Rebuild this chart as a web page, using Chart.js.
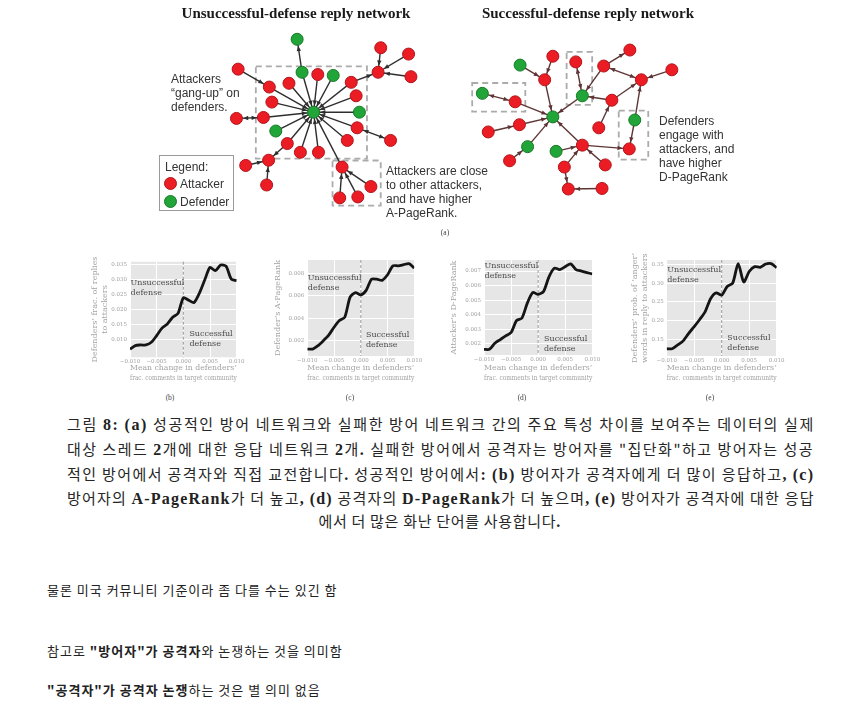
<!DOCTYPE html>
<html>
<head>
<meta charset="utf-8">
<script src="https://cdn.jsdelivr.net/npm/chart.js@4.4.0/dist/chart.umd.min.js"></script>
<style>
body{margin:0;background:#fff;width:849px;height:705px;position:relative;overflow:hidden;font-family:"Noto Sans CJK KR",sans-serif;}
.abs{position:absolute;white-space:nowrap;}
canvas{position:absolute;}
.ttl{font:bold 15px "Liberation Serif",serif;color:#1a1a1a;line-height:18px;transform:translateX(-50%);}
.note{font:12px "Liberation Sans",Arial,sans-serif;color:#333;line-height:14px;}
.sub{font:7.5px "Liberation Serif",serif;color:#444;line-height:10px;transform:translateX(-50%);}
.cap{font:15px "Noto Sans CJK KR",sans-serif;color:#262626;line-height:20px;}
.cap b{font-family:"Liberation Serif",serif;font-weight:bold;font-size:16px;color:#222;}
.txt{font:13px "Noto Sans CJK KR",sans-serif;color:#222;line-height:18px;letter-spacing:1px;}
.legend{position:absolute;left:159px;top:155px;width:73px;height:54px;border:1px solid #9a9a9a;background:#fff;}
.dot{position:absolute;width:12px;height:12px;border-radius:50%;}
</style>
</head>
<body>

<canvas id="net" width="849" height="240" style="left:0;top:0"></canvas>

<div class="abs ttl" style="left:296px;top:4px">Unsuccessful-defense reply network</div>
<div class="abs ttl" style="left:588px;top:4px">Successful-defense reply network</div>

<div class="abs note" style="left:171px;top:72px">Attackers<br>“gang-up” on<br>defenders.</div>
<div class="abs note" style="left:386px;top:164px">Attackers are close<br>to other attackers,<br>and have higher<br>A-PageRank.</div>
<div class="abs note" style="left:659px;top:114px">Defenders<br>engage with<br>attackers, and<br>have higher<br>D-PageRank</div>

<div class="legend">
  <div class="abs note" style="left:5px;top:4px">Legend:</div>
  <div class="dot" style="left:4px;top:21px;background:#ec1c24;border:1px solid #b3141a;width:11px;height:11px"></div>
  <div class="abs note" style="left:20px;top:21px">Attacker</div>
  <div class="dot" style="left:4px;top:39px;background:#22a538;border:1px solid #177a27;width:11px;height:11px"></div>
  <div class="abs note" style="left:20px;top:39px">Defender</div>
</div>

<div class="abs sub" style="left:445px;top:228px">(a)</div>

<canvas id="chartB"></canvas>
<canvas id="chartC"></canvas>
<canvas id="chartD"></canvas>
<canvas id="chartE"></canvas>

<div class="abs sub" style="left:170px;top:393px">(b)</div>
<div class="abs sub" style="left:350px;top:393px">(c)</div>
<div class="abs sub" style="left:522px;top:393px">(d)</div>
<div class="abs sub" style="left:710px;top:393px">(e)</div>

<div id="caption"></div>

<div class="abs txt" style="left:47px;top:581px">물론 미국 커뮤니티 기준이라 좀 다를 수는 있긴 함</div>
<div class="abs txt" style="left:47px;top:642px">참고로 <b>"방어자"가 공격자</b>와 논쟁하는 것을 의미함</div>
<div class="abs txt" style="left:47px;top:681px"><b>"공격자"가 공격자 논쟁</b>하는 것은 별 의미 없음</div>

<script>
// ---- network (a): nodes [x, y, type], A = attacker, D = defender
var netNodes1 = [
  [311.7,111.7,'D'], [295,34.3,'D'], [300,69.3,'D'], [316,71.7,'A'], [331.7,72.7,'D'],
  [350,80,'A'], [355,94.3,'A'], [358.3,111.7,'D'], [356,128.3,'A'], [346,141.7,'A'],
  [390,141.7,'A'], [316.7,154.3,'A'], [298.3,154.3,'A'], [340.7,170,'A'], [370,190.7,'A'],
  [356.7,201.7,'A'], [338.3,202.7,'A'], [285,145,'A'], [266,162.7,'A'], [242.7,168.3,'A'],
  [264,189,'A'], [273.3,131.7,'D'], [260.7,117.3,'A'], [233.3,118.3,'A'], [269.3,101,'A'],
  [286.7,81,'A'], [266.7,85,'A'], [235,66,'A'], [377.3,69.3,'A'], [380,43.3,'A'],
  [408.3,50,'A'], [410.7,74,'A']
];
// edges [from, to, 1 = arrow at "to", 2 = both ends]
var netEdges1 = [
  [2,0,1],[3,0,1],[4,0,1],[5,0,1],[6,0,1],[7,0,1],[8,0,1],[9,0,1],[11,0,1],[12,0,1],
  [13,0,1],[17,0,1],[21,0,1],[22,0,1],[24,0,1],[25,0,1],[26,0,1],
  [2,1,1],[27,26,1],[23,22,2],[10,8,2],[5,28,1],[29,28,1],[30,28,1],[31,28,1],
  [14,13,1],[15,13,1],[16,13,1],[17,18,1],[19,18,1],[20,18,1]
];
var netNodes2 = [
  [555,116.7,'D'], [521.7,61.7,'D'], [555,52.3,'A'], [546.7,77.3,'A'], [483.3,91.7,'D'],
  [516.7,100.7,'A'], [521,125,'A'], [489.3,132.7,'A'], [529.3,148.3,'D'], [511,163.3,'A'],
  [558.3,153.3,'D'], [585,146.7,'A'], [566.7,170,'A'], [608.3,167.7,'A'], [570.7,193.3,'A'],
  [605,192.7,'A'], [632.7,150.7,'A'], [638.3,120,'D'], [645,77.3,'A'], [676,66.7,'A'],
  [633.3,45.7,'A'], [606.7,62.7,'A'], [615,99,'A'], [601.7,128.3,'A'], [585,94.3,'D'],
  [578.3,58.3,'A']
];
var netEdges2 = [
  [2,3,1],[1,3,1],[3,0,1],[4,5,2],[5,0,1],[7,6,1],[6,0,1],[9,8,1],[8,0,1],[11,0,1],
  [10,11,1],[11,16,1],[12,11,1],[12,14,1],[15,14,1],[13,11,1],[17,16,1],[17,18,1],
  [19,18,1],[18,21,2],[21,20,1],[21,24,1],[22,18,1],[22,24,1],[23,22,1],[25,24,2],[24,0,1]
];
// dashed highlight boxes [x0, y0, x1, y1]
var netBoxes = [
  [253,63,366,161], [331,163,380,211],
  [473,80.7,527,111], [569,47.7,595,104], [622,110,652,162]
];

// ---- panels (b)-(e)
var xValues = [-0.010,-0.009,-0.008,-0.007,-0.006,-0.005,-0.004,-0.003,-0.002,-0.001,0.000,
               0.001,0.002,0.003,0.004,0.005,0.006,0.007,0.008,0.009,0.010];
var xTicks = [-0.010,-0.005,0.000,0.005,0.010];
var fracReplies = [0.0067,0.0079,0.0081,0.0081,0.0090,0.0112,0.0137,0.0151,0.0173,0.0186,0.0238,
                   0.0230,0.0222,0.0253,0.0297,0.0339,0.0328,0.0347,0.0343,0.0300,0.0295];
var aPageRank = [0.00125,0.00125,0.00155,0.0020,0.0025,0.0032,0.0038,0.0041,0.0059,0.0063,0.0061,
                 0.0065,0.0075,0.0075,0.0074,0.0079,0.0087,0.0087,0.0088,0.0089,0.0085];
var dPageRank = [0.00163,0.00163,0.00205,0.0023,0.00255,0.00278,0.0036,0.00377,0.0048,0.00553,0.0054,
                 0.0056,0.0066,0.0072,0.0071,0.0073,0.0075,0.0071,0.0070,0.0069,0.0068];
var angerProb = [0.125,0.125,0.135,0.146,0.166,0.184,0.203,0.224,0.259,0.274,0.268,
                 0.291,0.300,0.352,0.303,0.331,0.344,0.342,0.351,0.352,0.341];
var ticksB = [0.010,0.015,0.020,0.025,0.030,0.035];
var ticksC = [0.002,0.004,0.006,0.008];
var ticksD = [0.002,0.003,0.004,0.005,0.006,0.007];
var ticksE = [0.15,0.20,0.25,0.30,0.35];
var xTitle = ['Mean change in defenders’', 'frac. comments in target community'];

var captionLines = [
  '그림 <b>8:</b> <b>(a)</b> 성공적인 방어 네트워크와 실패한 방어 네트워크 간의 주요 특성 차이를 보여주는 데이터의 실제',
  '대상 스레드 <b>2</b>개에 대한 응답 네트워크 <b>2</b>개<b>.</b> 실패한 방어에서 공격자는 방어자를 "집단화"하고 방어자는 성공',
  '적인 방어에서 공격자와 직접 교전합니다<b>.</b> 성공적인 방어에서<b>:</b> <b>(b)</b> 방어자가 공격자에게 더 많이 응답하고<b>,</b> <b>(c)</b>',
  '방어자의 <b>A-PageRank</b>가 더 높고<b>,</b> <b>(d)</b> 공격자의 <b>D-PageRank</b>가 더 높으며<b>,</b> <b>(e)</b> 방어자가 공격자에 대한 응답',
  '에서 더 많은 화난 단어를 사용합니다<b>.</b>'
];

var RED = '#ec1c24', RED_B = '#b3141a', GREEN = '#22a538', GREEN_B = '#177a27';

function nodesOf(type) {
  var out = [];
  netNodes1.concat(netNodes2).forEach(function (n) {
    if (n[2] === type) out.push({x: n[0], y: n[1]});
  });
  return out;
}

var netPlugin = {
  id: 'netEdges',
  beforeDatasetsDraw: function (chart) {
    var xs = chart.scales.x, ys = chart.scales.y, ctx = chart.ctx;
    ctx.save();
    ctx.setLineDash([6, 4]);
    ctx.strokeStyle = '#ababab';
    ctx.lineWidth = 1.8;
    netBoxes.forEach(function (b) {
      var x0 = xs.getPixelForValue(b[0]), y0 = ys.getPixelForValue(b[1]);
      var x1 = xs.getPixelForValue(b[2]), y1 = ys.getPixelForValue(b[3]);
      ctx.strokeRect(x0, y0, x1 - x0, y1 - y0);
    });
    ctx.setLineDash([]);

    function arrow(px, py, qx, qy, color) {
      var dx = qx - px, dy = qy - py, len = Math.sqrt(dx * dx + dy * dy);
      var ux = dx / len, uy = dy / len;
      var tx = qx - ux * 6.8, ty = qy - uy * 6.8;
      var bx = tx - ux * 5, by = ty - uy * 5;
      ctx.beginPath();
      ctx.moveTo(tx, ty);
      ctx.lineTo(bx - uy * 2.2, by + ux * 2.2);
      ctx.lineTo(bx + uy * 2.2, by - ux * 2.2);
      ctx.closePath();
      ctx.fillStyle = color;
      ctx.fill();
    }

    [[netNodes1, netEdges1, '#2e2e2e'], [netNodes2, netEdges2, '#5e3434']].forEach(function (set) {
      var nodes = set[0], color = set[2];
      set[1].forEach(function (e) {
        var a = nodes[e[0]], b = nodes[e[1]];
        var px = xs.getPixelForValue(a[0]), py = ys.getPixelForValue(a[1]);
        var qx = xs.getPixelForValue(b[0]), qy = ys.getPixelForValue(b[1]);
        ctx.beginPath();
        ctx.moveTo(px, py);
        ctx.lineTo(qx, qy);
        ctx.strokeStyle = color;
        ctx.lineWidth = 1.4;
        ctx.stroke();
        arrow(px, py, qx, qy, color);
        if (e[2] === 2) arrow(qx, qy, px, py, color);
      });
    });
    ctx.restore();
  }
};

new Chart(document.getElementById('net'), {
  type: 'scatter',
  data: {
    datasets: [
      {label: 'Attacker', data: nodesOf('A'), pointRadius: 6, pointBackgroundColor: RED,
       pointBorderColor: RED_B, pointBorderWidth: 1},
      {label: 'Defender', data: nodesOf('D'), pointRadius: 6, pointBackgroundColor: GREEN,
       pointBorderColor: GREEN_B, pointBorderWidth: 1}
    ]
  },
  options: {
    responsive: false,
    animation: false,
    events: [],
    layout: {padding: 0},
    plugins: {legend: {display: false}, tooltip: {enabled: false}},
    scales: {
      x: {type: 'linear', display: false, min: 0, max: 849},
      y: {type: 'linear', display: false, min: 0, max: 240, reverse: true}
    }
  },
  plugins: [netPlugin]
});

// text notes inside the small panels, in data units
var panelNotes = {
  chartB: [[-0.0099, 0.0289, ['Unsuccessful', 'defense']], [0.00113, 0.0118, ['Successful', 'defense']]],
  chartC: [[-0.0099, 0.00758, ['Unsuccessful', 'defense']], [0.00097, 0.00251, ['Successful', 'defense']]],
  chartD: [[-0.0099, 0.00734, ['Unsuccessful', 'defense']], [0.00108, 0.00232, ['Successful', 'defense']]],
  chartE: [[-0.0099, 0.335, ['Unsuccessful', 'defense']], [0.00103, 0.1527, ['Successful', 'defense']]]
};

var panelPlugin = {
  id: 'panelDeco',
  beforeDraw: function (chart) {
    var a = chart.chartArea, c = chart.ctx;
    c.save();
    c.fillStyle = '#e6e6e6';
    c.fillRect(a.left, a.top, a.right - a.left, a.bottom - a.top);
    c.restore();
  },
  beforeDatasetsDraw: function (chart) {
    var a = chart.chartArea, c = chart.ctx, x0 = chart.scales.x.getPixelForValue(0);
    c.save();
    c.setLineDash([3, 2]);
    c.strokeStyle = '#999';
    c.lineWidth = 1;
    c.beginPath();
    c.moveTo(x0, a.top);
    c.lineTo(x0, a.bottom);
    c.stroke();
    c.restore();
  },
  afterDatasetsDraw: function (chart) {
    var c = chart.ctx, xs = chart.scales.x, ys = chart.scales.y;
    c.save();
    c.font = '8px "DejaVu Serif"';
    c.fillStyle = '#4a4a4a';
    c.textAlign = 'left';
    c.textBaseline = 'middle';
    (panelNotes[chart.canvas.id] || []).forEach(function (n) {
      var px = xs.getPixelForValue(n[0]), py = ys.getPixelForValue(n[1]);
      n[2].forEach(function (t, i) { c.fillText(t, px, py + i * 10); });
    });
    c.restore();
  }
};

function fmtX(v) {
  return (v < -1e-9 ? '\u2212' : '') + Math.abs(v).toFixed(3);
}

function makePanel(id, p) {
  var cl = Math.floor(p.yTitleX - 7), ct = Math.floor(p.T - 10), cr = Math.ceil(p.R + 36), cb = 386;
  var cv = document.getElementById(id);
  cv.width = cr - cl;
  cv.height = cb - ct;
  cv.style.left = cl + 'px';
  cv.style.top = ct + 'px';
  var yW = p.L - cl, xH = 383.3 - p.B;
  var pts = xValues.map(function (x, i) { return {x: x, y: p.ys[i]}; });
  var tickFont = {family: 'DejaVu Serif', size: 5.5};
  var titleFont = {family: 'DejaVu Serif', size: 8, lineHeight: 1.25};
  new Chart(cv, {
    type: 'line',
    data: {
      datasets: [{data: pts, borderColor: '#151515', borderWidth: 2.8, pointRadius: 0,
                  tension: 0.25, fill: false}]
    },
    options: {
      responsive: false,
      animation: false,
      events: [],
      layout: {padding: {left: 0, top: p.T - ct, right: cr - p.R, bottom: cb - 383.3}},
      plugins: {legend: {display: false}, tooltip: {enabled: false}},
      scales: {
        x: {
          type: 'linear', min: -0.010, max: 0.010,
          afterBuildTicks: function (s) { s.ticks = xTicks.map(function (v) { return {value: v}; }); },
          afterFit: function (s) { s.height = xH; },
          grid: {color: '#ffffff', lineWidth: 1, drawTicks: false},
          border: {display: false},
          ticks: {padding: 1, font: tickFont, color: '#a3a3a3', maxRotation: 0, autoSkip: false,
                  callback: fmtX},
          title: {display: true, text: xTitle, font: titleFont, color: '#a3a3a3',
                  padding: {top: 0, bottom: 0}}
        },
        y: {
          type: 'linear', min: p.min, max: p.max,
          afterBuildTicks: function (s) { s.ticks = p.ticks.map(function (v) { return {value: v}; }); },
          afterFit: function (s) { s.width = yW; },
          grid: {color: '#ffffff', lineWidth: 1, drawTicks: false},
          border: {display: false},
          ticks: {padding: 3, font: tickFont, color: '#a3a3a3',
                  callback: function (v) { return v.toFixed(p.dec); }},
          title: {display: true, text: p.yTitle, font: titleFont, color: '#a3a3a3',
                  padding: {top: (p.yTitleX - cl) - 5, bottom: 0}}
        }
      }
    },
    plugins: [panelPlugin]
  });
}

makePanel('chartB', {L: 130, R: 236.7, T: 261.7, B: 357.3, yTitleX: 95, ys: fracReplies,
  min: 0.0040, max: 0.0358, ticks: ticksB, dec: 3,
  yTitle: ['Defenders’ frac. of replies', 'to attackers']});
makePanel('chartC', {L: 307.3, R: 414.3, T: 260, B: 356, yTitleX: 277.7, ys: aPageRank,
  min: 0.00063, max: 0.00922, ticks: ticksC, dec: 3,
  yTitle: 'Defender’s A-PageRank'});
makePanel('chartD', {L: 484, R: 592.3, T: 260, B: 355, yTitleX: 454, ys: dPageRank,
  min: 0.00124, max: 0.00776, ticks: ticksD, dec: 3,
  yTitle: 'Attacker’s D-PageRank'});
makePanel('chartE', {L: 666.7, R: 776.7, T: 260, B: 356, yTitleX: 635, ys: angerProb,
  min: 0.1056, max: 0.3616, ticks: ticksE, dec: 2,
  yTitle: ['Defenders’ prob. of ’anger’', 'words in reply to attackers']});

// caption: lines stretched to the block width by letter spacing, last one centred
var capLeft = 67, capWidth = 746;
var capTops = [414, 439, 464, 488, 511];
var capHolder = document.getElementById('caption');
captionLines.forEach(function (html, i) {
  var d = document.createElement('div');
  d.className = 'abs cap';
  d.innerHTML = html;
  d.style.top = capTops[i] + 'px';
  capHolder.appendChild(d);
  var w = d.offsetWidth;
  var n = d.textContent.length;
  if (i < captionLines.length - 1) {
    d.style.left = capLeft + 'px';
    d.style.letterSpacing = ((capWidth - w) / (n - 1)) + 'px';
  } else {
    d.style.letterSpacing = '0.7px';
    d.style.left = (capLeft + capWidth / 2 - d.offsetWidth / 2) + 'px';
  }
});
</script>
</body>
</html>
